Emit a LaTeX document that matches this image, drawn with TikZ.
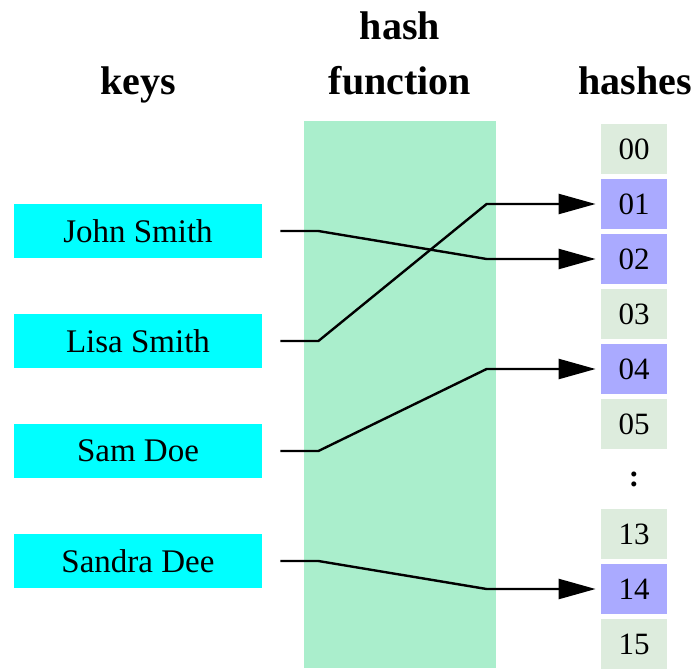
\documentclass[tikz,border=0pt]{standalone}
\usepackage{fontspec}
\setmainfont{Liberation Serif}
\usetikzlibrary{arrows.meta}
\definecolor{cian}{RGB}{0,255,255}
\definecolor{verdoso}{RGB}{170,238,204}
\definecolor{celda}{RGB}{221,236,221}
\definecolor{lila}{RGB}{170,170,255}

\begin{document}
\begin{tikzpicture}[
    x=0.5pt, y=-0.5pt,
    head/.style={
        font=\bfseries\fontsize{20}{27.5}\selectfont,
        align=center,
        anchor=base
    },
    keybox/.style={
        rectangle,
        fill=cian,
        inner sep=0pt,
        minimum width=124pt,
        minimum height=27pt,
        font=\fontsize{16.5}{18}\selectfont
    },
    cell/.style={
        rectangle,
        fill=celda,
        inner sep=0pt,
        minimum width=33pt,
        minimum height=25pt,
        font=\fontsize{15.5}{17}\selectfont
    },
    hit/.style={cell, fill=lila},
    link/.style={-{Triangle[length=18.5pt,width=10pt]}, line width=1.2pt,
        shorten <=9pt, shorten >=2.5pt}
]
\useasboundingbox (0,0) rectangle (694,668);

% ---------------- hash function ----------------
\fill[verdoso] (304,121) rectangle (496,668);

% ---------------- titles ----------------
\node[head] (tkeys) at (138,95) {keys};
\node[head] (tfun) at (400,95) {hash\\function};
\node[head] (thash) at (635,95) {hashes};

% ---------------- keys ----------------
\node[keybox] (john) at (138,231) {John Smith};
\node[keybox] (lisa) at (138,341) {Lisa Smith};
\node[keybox] (sam) at (138,451) {Sam Doe};
\node[keybox] (sandra) at (138,561) {Sandra Dee};

% ---------------- hashes ----------------
\foreach \lab/\row/\sty in {00/0/cell, 01/1/hit, 02/2/hit, 03/3/cell, 04/4/hit,
                            05/5/cell, 13/7/cell, 14/8/hit, 15/9/cell}
    \node[\sty] (h\lab) at (634,149+55*\row) {\lab};
\node[font=\bfseries\fontsize{15.5}{17}\selectfont] (dots) at (634,479) {:};

% ---------------- connectors ----------------
\draw[link] (john.east) -- ++(56,0) -- ([xshift=-57pt]h02.west) -- (h02.west);
\draw[link] (lisa.east) -- ++(56,0) -- ([xshift=-57pt]h01.west) -- (h01.west);
\draw[link] (sam.east) -- ++(56,0) -- ([xshift=-57pt]h04.west) -- (h04.west);
\draw[link] (sandra.east) -- ++(56,0) -- ([xshift=-57pt]h14.west) -- (h14.west);

\end{tikzpicture}
\end{document}
